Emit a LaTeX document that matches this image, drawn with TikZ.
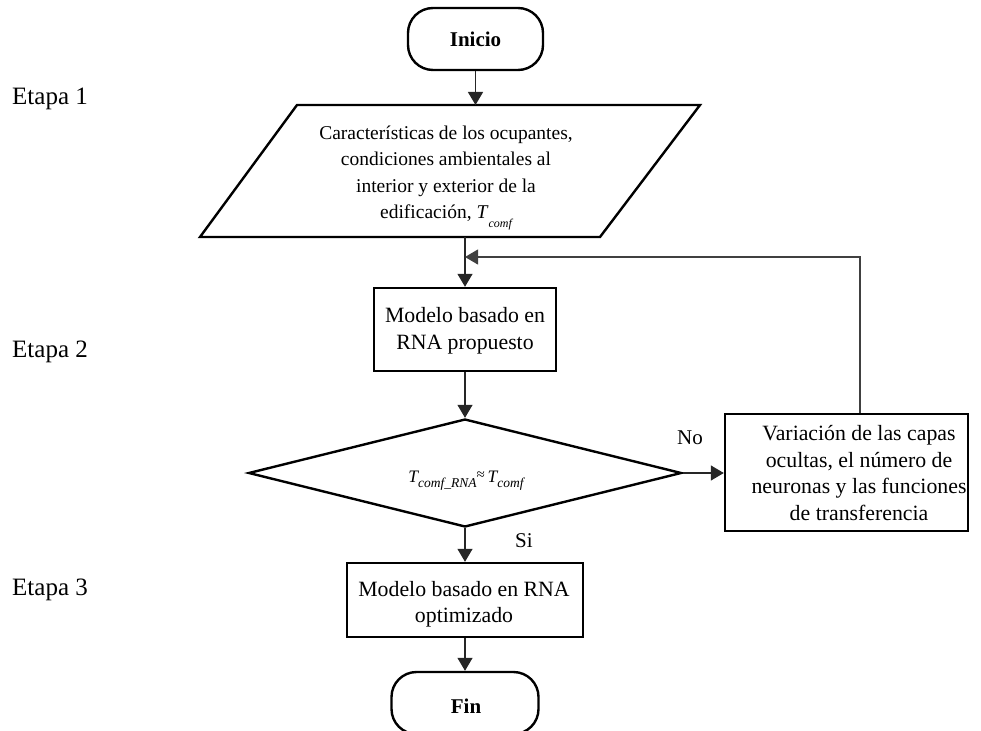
\documentclass[tikz,border=0pt]{standalone}
\usepackage{fontspec}
\setmainfont{Liberation Serif}
\usetikzlibrary{arrows.meta,shapes.geometric}

\begin{document}
\begin{tikzpicture}[x=1pt,y=-1pt,
  outline/.style={draw=black,line width=2.4pt,line join=miter},
  procbox/.style={outline,rectangle,inner sep=0pt,align=center,
    font=\fontsize{21.5}{26}\selectfont},
  boxtext/.style={inner sep=0pt,align=center,font=\fontsize{21.8}{26.5}\selectfont},
  termbox/.style={outline,rectangle,rounded corners=25pt,inner sep=0pt,
    minimum height=62pt,font=\fontsize{21}{25}\selectfont\bfseries},
  decision/.style={outline,diamond,inner sep=0pt,aspect=4},
  flow/.style={draw=black!85,line width=1.3pt,-{Triangle[length=13pt,width=15pt]}},
  loopline/.style={draw=black!75,line width=1.1pt,-{Triangle[length=13pt,width=15pt]}},
  edgelbl/.style={inner sep=0pt,font=\fontsize{21}{25}\selectfont},
  stagelbl/.style={inner sep=0pt,anchor=base west,font=\fontsize{25}{30}\selectfont}
]
\useasboundingbox (0,0) rectangle (981,730);

% stage labels on the left
\node[stagelbl] (e1) at (12,105) {Etapa 1};
\node[stagelbl] (e2) at (12,357) {Etapa 2};
\node[stagelbl] (e3) at (12,595) {Etapa 3};

% start
\node[termbox,minimum width=135pt,text depth=-3pt] (start) at (475.5,39) {Inicio};

% input data (parallelogram)
\coordinate (p1) at (297,105);
\coordinate (p2) at (700,105);
\coordinate (p3) at (600,237);
\coordinate (p4) at (200,237);
\draw[outline] (p1) -- (p2) -- (p3) -- (p4) -- cycle;
\node[inner sep=0pt,align=center,font=\fontsize{19.5}{26.5}\selectfont] (input) at (446,178)
  {Características de los ocupantes,\\
   condiciones ambientales al\\
   interior y exterior de la\\
   edificación, \textit{T}\raisebox{-9pt}{\fontsize{12}{13}\selectfont\itshape comf}};
\coordinate (intop) at (475.5,105);
\coordinate (inbot) at (465,237);
\coordinate (loop) at (465,257);

% proposed model
\node[procbox,minimum width=182pt,minimum height=83pt] (model) at (465,329.5) {};
\node[boxtext] (modeltxt) at (465,331) {Modelo basado en\\RNA propuesto};

% convergence test
\node[decision,minimum width=433pt,minimum height=108pt] (check) at (465,473) {};
\node[inner sep=0pt,font=\fontsize{17.5}{20}\selectfont\itshape] (cond) at (466,481)
  {T\raisebox{-5pt}{\fontsize{13.5}{14}\selectfont comf\_RNA}\raisebox{3pt}{\upshape\fontsize{15}{16}\selectfont ≈}\,T\raisebox{-5pt}{\fontsize{13.5}{14}\selectfont comf}};

% network adjustment
\node[procbox,minimum width=243pt,minimum height=117pt] (adjust) at (846.5,472.5) {};
\node[boxtext] (adjusttxt) at (859,473)
  {Variación de las capas\\ocultas, el número de\\neuronas y las funciones\\de transferencia};

% optimized model
\node[procbox,minimum width=236pt,minimum height=74pt] (final) at (465,600) {};
\node[boxtext] (finaltxt) at (464,604) {Modelo basado en RNA\\optimizado};

% end
\node[termbox,minimum width=147pt] (stop) at (465,703) {};
\node[inner sep=0pt,font=\fontsize{21}{25}\selectfont\bfseries] (stoptxt) at (466,706) {Fin};

% connectors
\draw[flow] (start) -- (intop);
\draw[flow] (inbot) -- (model.north);
\draw[flow] (model) -- (check);
\draw[flow] (check) -- (final);
\draw[flow] (final) -- (stop);
\draw[flow] (check.east) -- (check.east -| adjust.west);
\draw[loopline] ([xshift=13.5pt]adjust.north) |- (loop);

% branch labels
\node[edgelbl] (no) at (690,438) {No};
\node[edgelbl,anchor=west] (si) at (515,541) {Si};
\end{tikzpicture}
\end{document}
